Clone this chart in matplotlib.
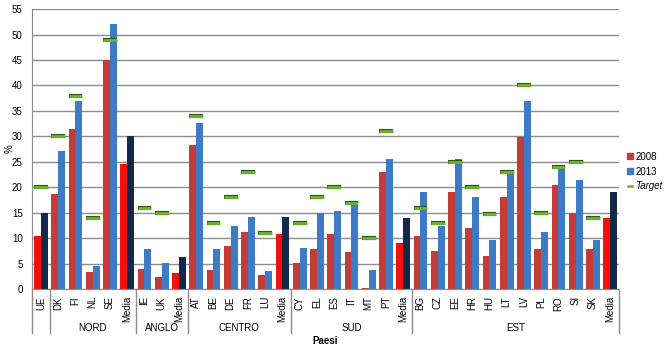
import numpy as np
import matplotlib
matplotlib.use("Agg")
import matplotlib.pyplot as plt
import matplotlib.patheffects as pe
from matplotlib.lines import Line2D

plt.rcParams['font.family'] = ['Liberation Sans', 'DejaVu Sans']

# categories (country codes), grouped
labels = ["UE",
          "DK", "FI", "NL", "SE", "Media",
          "IE", "UK", "Media",
          "AT", "BE", "DE", "FR", "LU", "Media",
          "CY", "EL", "ES", "IT", "MT", "PT", "Media",
          "BG", "CZ", "EE", "HR", "HU", "LT", "LV", "PL", "RO", "SI", "SK", "Media"]
groups = ["", "NORD", "ANGLO", "CENTRO", "SUD", "EST"]
group_sizes = [1, 5, 3, 6, 7, 12]

v2008 = [10.5,
         18.6, 31.4, 3.4, 45.1, 24.6,
         4.0, 2.4, 3.2,
         28.4, 3.8, 8.4, 11.2, 2.8, 10.8,
         5.1, 7.9, 10.8, 7.3, 0.2, 23.0, 9.0,
         10.4, 7.5, 19.0, 12.0, 6.5, 18.0, 29.8, 7.8, 20.5, 15.0, 7.8, 14.0]
v2013 = [15.0,
         27.2, 36.9, 4.6, 52.1, 30.1,
         7.8, 5.1, 6.4,
         32.6, 7.9, 12.4, 14.1, 3.6, 14.1,
         8.1, 15.0, 15.4, 16.8, 3.7, 25.6, 14.0,
         19.0, 12.4, 25.6, 18.0, 9.7, 22.7, 37.0, 11.3, 23.8, 21.5, 9.7, 19.1]
target = [20,
          30, 38, 14, 49, None,
          16, 15, None,
          34, 13, 18, 23, 11, None,
          13, 18, 20, 17, 10, 31, None,
          16, 13, 25, 20, 14.7, 23, 40, 15, 24, 25, 14, None]

col_08 = "#C43B37"
col_13 = "#3D7BC7"
col_08_avg = "#F50F0F"
col_13_avg = "#14294A"
col_tgt = "#6DB52E"

fig = plt.figure(figsize=(6.69, 3.5), dpi=100)
ax = fig.add_axes([0.0483, 0.174, 0.8767, 0.80])

x = np.arange(len(labels))
w = 0.4
is_avg = [(l == "Media" or l == "UE") for l in labels]
c08 = [col_08_avg if a else col_08 for a in is_avg]
c13 = [col_13_avg if a else col_13 for a in is_avg]

ax.bar(x - w / 2, v2008, width=w, color=c08, zorder=2)
ax.bar(x + w / 2, v2013, width=w, color=c13, zorder=2)

tx = np.array([xi for xi, t in zip(x, target) if t is not None])
ty = np.array([t for t in target if t is not None])
ax.hlines(ty, tx - w, tx + w, color=col_tgt, lw=2.0, zorder=3,
          path_effects=[pe.Stroke(linewidth=3.0, foreground="#2E5A12"), pe.Normal()])

ax.set_xlim(-0.5, len(labels) - 0.5)
ax.set_ylim(0, 55)
ax.set_yticks(np.arange(0, 56, 5))
ax.yaxis.grid(True, color="#8C8C8C", lw=1)
ax.set_axisbelow(True)
ax.tick_params(axis="y", length=0, pad=7, labelsize=7)
ax.set_xticks(x)
ax.set_xticklabels(labels, rotation=90, fontsize=7)
ax.tick_params(axis="x", length=0, pad=5)
for s in ["top", "right"]:
    ax.spines[s].set_visible(False)
ax.spines["left"].set_color("#8C8C8C")
ax.spines["bottom"].set_color("#8C8C8C")
ax.set_ylabel("%", fontsize=7)
ax.yaxis.set_label_coords(-0.03, 0.5)

# group separators and labels
bounds = np.concatenate([[0], np.cumsum(group_sizes)]) - 0.5
for b in bounds:
    ax.plot([b, b], [0, -0.157], color="#8C8C8C", lw=1, clip_on=False,
            transform=ax.get_xaxis_transform())
for g, lo, hi in zip(groups, bounds[:-1], bounds[1:]):
    ax.text((lo + hi) / 2, -0.139, g, ha="center", va="center", fontsize=7,
            transform=ax.get_xaxis_transform())
ax.text(0.5, -0.187, "Paesi", ha="center", va="center", fontsize=7,
        fontweight="bold", transform=ax.transAxes)

handles = [Line2D([], [], ls="none", marker="s", markersize=4, color=col_08),
           Line2D([], [], ls="none", marker="s", markersize=4, color=col_13),
           Line2D([], [], color=col_tgt, lw=1.8)]
leg = ax.legend(handles, ["2008", "2013", "Target"], loc="center left",
                bbox_to_anchor=(1.0, 0.42), frameon=False, fontsize=7,
                handlelength=0.5, handletextpad=0.3, labelspacing=0.5)
leg.get_texts()[2].set_style("italic")

fig.savefig("out.png", dpi=100)
